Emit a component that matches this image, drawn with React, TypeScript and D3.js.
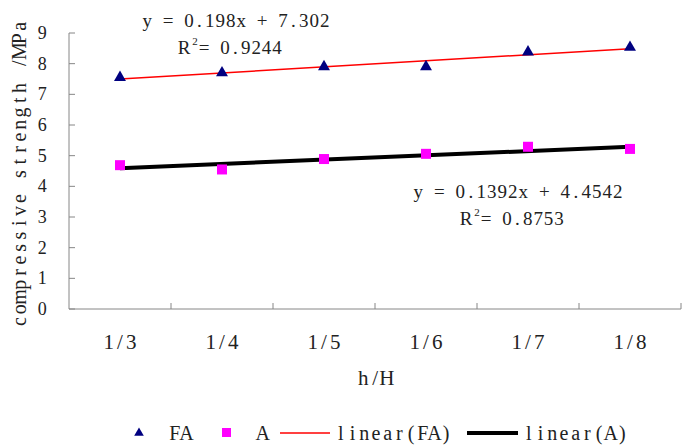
import React from "react";
import * as d3 from "d3";

const categories = ["1/3", "1/4", "1/5", "1/6", "1/7", "1/8"];
const faValues = [7.55, 7.7, 7.9, 7.9, 8.38, 8.53];
const aValues = [4.69, 4.55, 4.89, 5.06, 5.29, 5.22];
const yTicks = [0, 1, 2, 3, 4, 5, 6, 7, 8, 9];
const faFit = { slope: 0.198, intercept: 7.302, r2: "0.9244", eq: "y = 0.198x + 7.302" };
const aFit = { slope: 0.1392, intercept: 4.4542, r2: "0.8753", eq: "y = 0.1392x + 4.4542" };
const legendLabels = ["FA", "A", "linear(FA)", "linear(A)"];
const xTitle = "h/H";
const yTitle = "compressive strength /MPa";

const W = 685;
const H = 448;
const M = { left: 69, right: 681, top: 33, bottom: 309 };
const FONT = "'Liberation Serif', 'DejaVu Serif', serif";
const TXT = "#222";
const AX = "#868686";

// Monospaced layout with serif glyphs (mimics SimSun half-width latin)
function Mono(props: {
  text: string;
  x: number; // left edge of first cell
  y: number; // vertical middle
  adv: number;
  size: number;
  fill?: string;
}) {
  const chars = Array.from(props.text);
  const xs = chars.map((_, i) => props.x + props.adv * (i + 0.5)).join(" ");
  return (
    <text
      x={xs}
      y={props.y}
      dy="0.34em"
      textAnchor="middle"
      fontFamily={FONT}
      fontSize={props.size}
      fill={props.fill || TXT}
    >
      {props.text}
    </text>
  );
}

export default function App() {
  const x = d3.scaleBand<string>().domain(categories).range([M.left, M.right]);
  const y = d3.scaleLinear().domain([0, 9]).range([M.bottom, M.top]);
  const cx = (i: number) => (x(categories[i]) as number) + x.bandwidth() / 2;

  const tri = d3.symbol().type(d3.symbolTriangle).size(62)();
  const fitLine = (f: { slope: number; intercept: number }) =>
    d3
      .line<number>()
      .x((i) => cx(i))
      .y((i) => y(f.slope * (i + 1) + f.intercept))([0, categories.length - 1]) as string;

  const boundaries = categories.map((_, i) => (x(categories[i]) as number) + x.bandwidth());

  const titleAdv = 12.3;
  const titleLen = yTitle.length * titleAdv;
  const titleCenter = 174;

  return (
    <svg width={W} height={H} style={{ position: "absolute", left: 0, top: 0, background: "#fff" }}>
      {/* axes */}
      <line x1={M.left} x2={M.left} y1={M.top} y2={M.bottom} stroke={AX} strokeWidth={1} />
      <line x1={M.left} x2={M.right} y1={M.bottom} y2={M.bottom} stroke={AX} strokeWidth={1} />
      {yTicks.map((t) => (
        <g key={"yt" + t}>
          <line x1={M.left} x2={M.left + 6} y1={y(t)} y2={y(t)} stroke={AX} />
          <Mono text={String(t)} x={37} y={y(t)} adv={10.5} size={18} />
        </g>
      ))}
      {boundaries.map((b, i) => (
        <line key={"xt" + i} x1={b} x2={b} y1={M.bottom} y2={M.bottom - 6} stroke={AX} />
      ))}
      {categories.map((c, i) => (
        <Mono key={"xl" + c} text={c} x={cx(i) - 17} y={342} adv={11.3} size={21} />
      ))}
      <Mono text={xTitle} x={375 - 17.5} y={378} adv={11.7} size={21} />
      <g transform={`translate(19,${titleCenter}) rotate(-90)`}>
        <Mono text={yTitle} x={-titleLen / 2} y={0} adv={titleAdv} size={20} />
      </g>

      {/* fit lines */}
      <path d={fitLine(faFit)} stroke="#ff0000" strokeWidth={1.5} fill="none" />
      <path d={fitLine(aFit)} stroke="#000" strokeWidth={4} fill="none" />

      {/* markers */}
      {faValues.map((v, i) => (
        <path key={"fa" + i} d={tri as string} transform={`translate(${cx(i)},${y(v)})`} fill="#000080" />
      ))}
      {aValues.map((v, i) => (
        <rect key={"a" + i} x={cx(i) - 5} y={y(v) - 5} width={10} height={10} fill="#ff00ff" />
      ))}

      {/* equations */}
      <Mono text={faFit.eq} x={142} y={21} adv={10.44} size={19} />
      <Mono text="R" x={179} y={48} adv={10.4} size={19} />
      <Mono text="2" x={191} y={41} adv={8} size={11} />
      <Mono text={" = " + faFit.r2} x={199} y={48} adv={10.4} size={19} />

      <Mono text={aFit.eq} x={413} y={192} adv={10.5} size={19} />
      <Mono text="R" x={461} y={219} adv={10.4} size={19} />
      <Mono text="2" x={473} y={212} adv={8} size={11} />
      <Mono text={" = " + aFit.r2} x={481} y={219} adv={10.4} size={19} />

      {/* legend */}
      <path d={d3.symbol().type(d3.symbolTriangle).size(40)() as string} transform="translate(139,433)" fill="#000080" />
      <Mono text={legendLabels[0]} x={169} y={433} adv={11.7} size={20} />
      <rect x={222} y={428} width={9} height={9} fill="#ff00ff" />
      <Mono text={legendLabels[1]} x={257} y={433} adv={11.7} size={20} />
      <line x1={280} x2={330} y1={433} y2={433} stroke="#ff0000" strokeWidth={1.5} />
      <Mono text={legendLabels[2]} x={335} y={433} adv={11.7} size={20} />
      <line x1={467} x2={518} y1={433} y2={433} stroke="#000" strokeWidth={4} />
      <Mono text={legendLabels[3]} x={523} y={433} adv={11.7} size={20} />
    </svg>
  );
}
